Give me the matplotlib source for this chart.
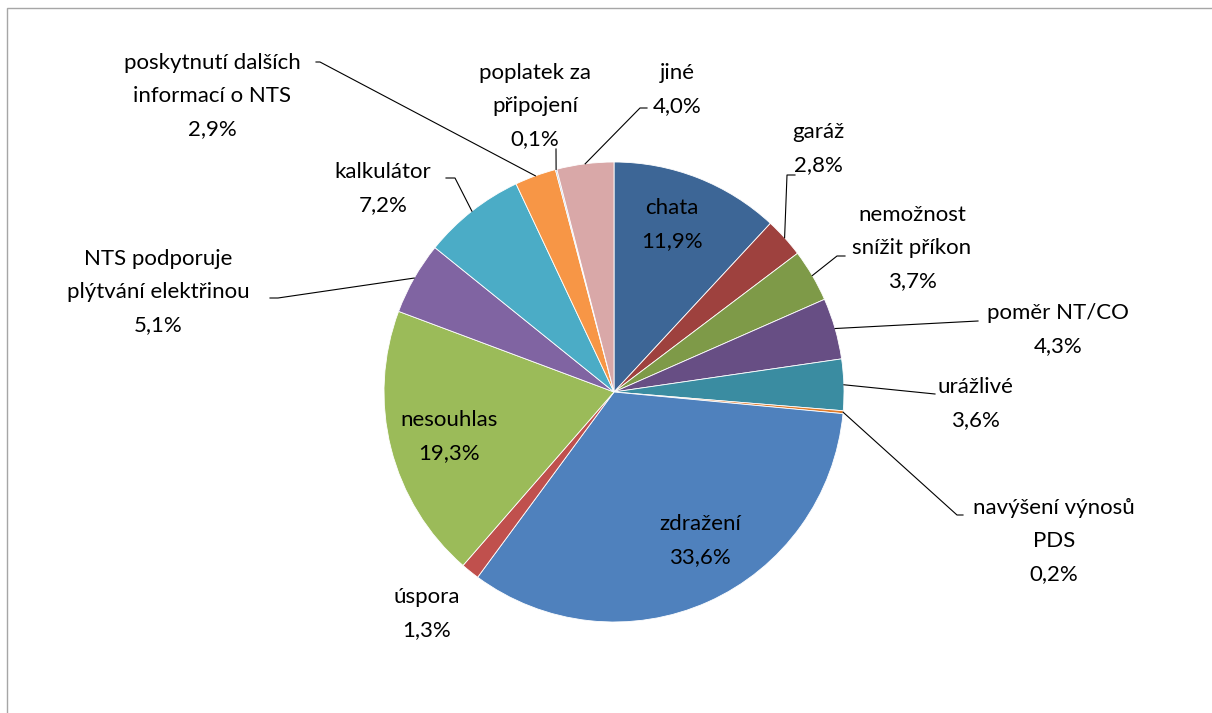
import numpy as np
import matplotlib
matplotlib.use("Agg")
import matplotlib.pyplot as plt
from matplotlib.patches import Rectangle

# ---- data ----
categories = ["chata", "garáž", "nemožnost\nsnížit příkon", "poměr NT/CO", "urážlivé",
              "navýšení výnosů\nPDS", "zdražení", "úspora", "nesouhlas",
              "NTS podporuje\nplýtvání elektřinou", "kalkulátor",
              "poskytnutí dalších\ninformací o NTS", "poplatek za\npřipojení", "jiné"]
values = [11.9, 2.8, 3.7, 4.3, 3.6, 0.2, 33.6, 1.3, 19.3, 5.1, 7.2, 2.9, 0.1, 4.0]
colors = ["#3D6696", "#9E413E", "#7E9A48", "#674E84", "#3A8CA1", "#E07B2A",
          "#4F81BD", "#C0504D", "#9BBB59", "#8064A2", "#4BACC6", "#F79646",
          "#A7BFDE", "#D9A8A8"]

# ---- layout (pixel coords, y from top) ----
W, H = 1212, 713
CX, CY, R = 614, 392, 230
# label centre (x, y of first line)
label_pos = {
    0: (672, 208), 1: (818, 132), 2: (912, 215), 3: (1058, 313), 4: (975, 387),
    5: (1054, 508), 6: (700, 524), 7: (427, 597), 8: (449, 420), 9: (158, 259),
    10: (383, 172), 11: (212, 63), 12: (535, 73), 13: (677, 73),
}
# leader polylines after the wedge edge point: list of (x, y)
leaders = {
    1: [(787, 175), (795, 175)],
    2: [(837, 256), (845, 256)],
    3: [(978, 321)],
    4: [(935, 394)],
    5: [(957, 515), (963, 515)],
    9: [(278, 298), (270, 298)],
    10: [(455, 178), (446, 178)],
    11: [(320, 62), (316, 62)],
    12: [(556, 149)],
    13: [(640, 108), (647, 108)],
}
LINE = 33

fig = plt.figure(figsize=(W / 100, H / 100), dpi=100)
ax = fig.add_axes([0, 0, 1, 1])

def P(x, y):
    return x, H - y

ax.pie(values, colors=colors, startangle=90, counterclock=False,
       center=P(CX, CY), radius=R,
       wedgeprops=dict(edgecolor="white", linewidth=0.6))
ax.set_xlim(0, W)
ax.set_ylim(0, H)
ax.set_aspect("equal")
ax.axis("off")

ax.add_patch(Rectangle(P(7, H + 5), W, H - 3, fill=False, ec="#A6A6A6", lw=1))

font = dict(family=["Lato", "DejaVu Sans"], fontsize=16, color="black")
total = sum(values)
cum = 0.0
for i, (cat, v) in enumerate(zip(categories, values)):
    mid = cum + v / 2
    cum += v
    ang = np.deg2rad(90 - mid / total * 360)
    ex, ey = CX + R * np.cos(ang), CY - R * np.sin(ang)
    pct = f"{v:.1f}%".replace(".", ",")
    lines = cat.split("\n") + [pct]
    lx, ly = label_pos[i]
    for k, t in enumerate(lines):
        ax.text(*P(lx, ly + k * LINE), t, ha="center", va="center", **font)
    if i in leaders:
        pts = [(ex, ey)] + leaders[i]
        xs = [p[0] for p in pts]
        ys = [H - p[1] for p in pts]
        ax.plot(xs, ys, color="black", lw=0.8)

fig.savefig("out.png", dpi=100)
